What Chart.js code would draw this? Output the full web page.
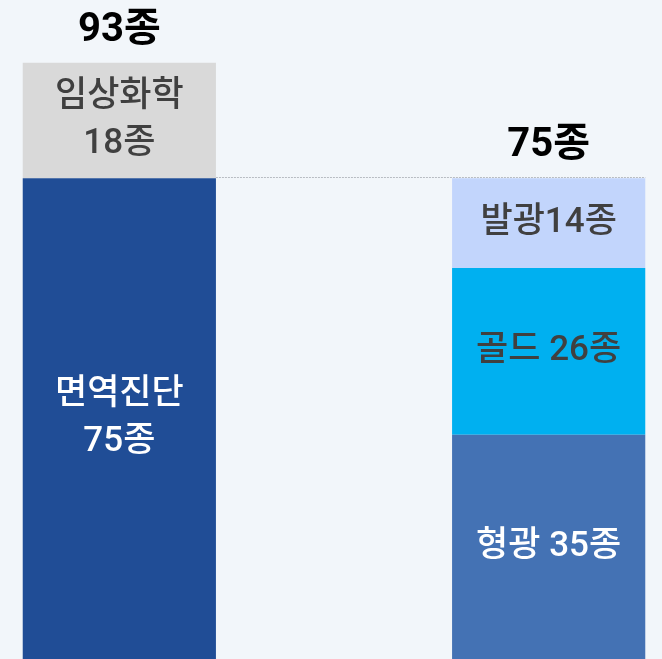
<!DOCTYPE html>
<html>
<head>
<meta charset="utf-8">
<script src="https://cdn.jsdelivr.net/npm/chart.js@4/dist/chart.umd.min.js"></script>
<style>
  html, body { margin: 0; padding: 0; background: #f2f6fa; }
  #wrap { width: 662px; height: 659px; position: relative; }
</style>
</head>
<body>
<div id="wrap"><canvas id="c" width="662" height="659"></canvas></div>
<script>
// ---- data ----
const categories = ['체외진단 전체', '', '면역진단 세부'];
const seriesNames = ['면역진단', '임상화학', '형광', '골드', '발광'];
const immunoValues = [75, null, null];
const clinicalValues = [18, null, null];
const fluorescenceValues = [null, null, 35];
const goldValues = [null, null, 26];
const luminescenceValues = [null, null, 14];
const segmentLabels = [['면역진단', '75종'], ['임상화학', '18종'], ['형광 35종'], ['골드 26종'], ['발광14종']];
const totalLabels = ['93종', null, '75종'];

const colors = ['#204d96', '#d9d9d9', '#4472b4', '#00b0f0', '#c2d5fc'];
const textColors = ['#ffffff', '#404040', '#ffffff', '#404040', '#404040'];
const FONT = 'Roboto, "Noto Sans CJK KR", sans-serif';

const seriesValues = [immunoValues, clinicalValues, fluorescenceValues, goldValues, luminescenceValues];

const labelPlugin = {
  id: 'labels',
  afterDatasetsDraw(chart) {
    const ctx = chart.ctx;
    ctx.save();
    ctx.textAlign = 'center';
    ctx.textBaseline = 'middle';
    const a = chart.getDatasetMeta(0).data[0];
    const b = chart.getDatasetMeta(4).data[2];
    ctx.strokeStyle = '#b8bcc2';
    ctx.lineWidth = 1;
    ctx.setLineDash([2, 1]);
    ctx.beginPath();
    ctx.moveTo(a.x + a.width / 2, Math.round(a.y) - 0.5);
    ctx.lineTo(b.x + b.width / 2, Math.round(a.y) - 0.5);
    ctx.stroke();
    ctx.setLineDash([]);
    chart.data.datasets.forEach((ds, di) => {
      const meta = chart.getDatasetMeta(di);
      meta.data.forEach((el, i) => {
        if (ds.data[i] == null) return;
        const lines = segmentLabels[di];
        const bottom = Math.min(el.base, chart.chartArea.bottom);
        const cy = (el.y + bottom) / 2;
        ctx.fillStyle = textColors[di];
        ctx.font = '500 35px ' + FONT;
        const lh = 47;
        lines.forEach((t, k) => {
          ctx.fillText(t, el.x, cy + (k - (lines.length - 1) / 2) * lh);
        });
      });
    });
    ctx.fillStyle = '#000000';
    ctx.font = 'bold 40px ' + FONT;
    totalLabels.forEach((t, i) => {
      if (!t) return;
      let top = Infinity, x = 0;
      chart.data.datasets.forEach((ds, di) => {
        const el = chart.getDatasetMeta(di).data[i];
        if (ds.data[i] != null && el.y < top) { top = el.y; x = el.x; }
      });
      ctx.fillText(t, x, top - 32);
    });
    ctx.restore();
  }
};

new Chart(document.getElementById('c'), {
  type: 'bar',
  data: {
    labels: categories,
    datasets: seriesNames.map((n, i) => ({
      label: n,
      data: seriesValues[i],
      backgroundColor: colors[i],
      borderWidth: 0,
      barPercentage: 0.9,
      categoryPercentage: 1.0
    }))
  },
  options: {
    responsive: false,
    animation: false,
    layout: { padding: { left: 12, right: 6, top: 0, bottom: 0 } },
    plugins: { legend: { display: false }, tooltip: { enabled: false } },
    scales: {
      x: { stacked: true, display: false },
      y: { stacked: true, display: false, min: 0, max: 102.8 }
    }
  },
  plugins: [labelPlugin]
});
</script>
</body>
</html>
